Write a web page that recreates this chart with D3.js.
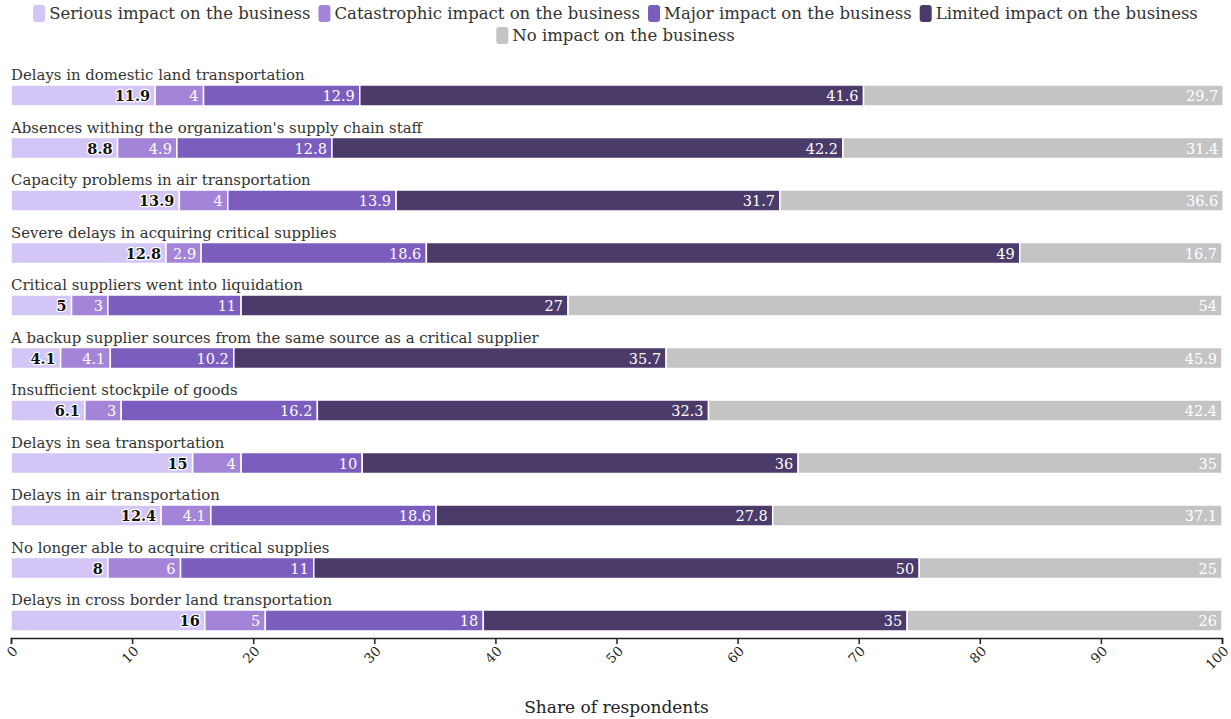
<!DOCTYPE html>
<html>
<head>
<meta charset="utf-8">
<script src="https://cdn.jsdelivr.net/npm/d3@7"></script>
<style>
  html, body { margin: 0; padding: 0; background: #fff; }
  svg { display: block; font-family: "DejaVu Serif", serif; }
</style>
</head>
<body>
<svg id="chart" width="1231" height="719"></svg>
<script>
// Survey: impact of supply chain disruptions (share of respondents, %)
const categories = [
  "Delays in domestic land transportation",
  "Absences withing the organization's supply chain staff",
  "Capacity problems in air transportation",
  "Severe delays in acquiring critical supplies",
  "Critical suppliers went into liquidation",
  "A backup supplier sources from the same source as a critical supplier",
  "Insufficient stockpile of goods",
  "Delays in sea transportation",
  "Delays in air transportation",
  "No longer able to acquire critical supplies",
  "Delays in cross border land transportation"
];
const seriesNames = [
  "Serious impact on the business",
  "Catastrophic impact on the business",
  "Major impact on the business",
  "Limited impact on the business",
  "No impact on the business"
];
const serious      = [11.9, 8.8, 13.9, 12.8, 5, 4.1, 6.1, 15, 12.4, 8, 16];
const catastrophic = [4, 4.9, 4, 2.9, 3, 4.1, 3, 4, 4.1, 6, 5];
const major        = [12.9, 12.8, 13.9, 18.6, 11, 10.2, 16.2, 10, 18.6, 11, 18];
const limited      = [41.6, 42.2, 31.7, 49, 27, 35.7, 32.3, 36, 27.8, 50, 35];
const noImpact     = [29.7, 31.4, 36.6, 16.7, 54, 45.9, 42.4, 35, 37.1, 25, 26];
const xTicks = [0, 10, 20, 30, 40, 50, 60, 70, 80, 90, 100];
const colors = ["#d3c6f6", "#a484d9", "#7a5dbd", "#4a3b6b", "#c4c4c4"];
const textColors = ["#111", "#fff", "#fff", "#fff", "#fff"];

const seriesValues = [serious, catastrophic, major, limited, noImpact];
const rows = categories.map((c, i) => {
  const r = { category: c };
  seriesNames.forEach((s, j) => r[s] = seriesValues[j][i]);
  return r;
});

const svg = d3.select("#chart");
const width = 1231, height = 719;

const x = d3.scaleLinear().domain([0, 100]).range([11, 1222]);
const rowStep = 52.5;
const band = d3.scaleBand().domain(categories)
  .range([85, 85 + rowStep * categories.length]).padding(0);
const barH = 21;

const stacked = d3.stack().keys(seriesNames)(rows);

// Category titles above each bar
svg.append("g").selectAll("text")
  .data(categories).join("text")
  .attr("x", x(0))
  .attr("y", d => band(d) - 5)
  .attr("fill", "#333")
  .attr("font-size", 14.9)
  .text(d => d);

// Stacked segments
const layers = svg.append("g").selectAll("g")
  .data(stacked).join("g")
  .attr("fill", (d, i) => colors[i]);

layers.selectAll("rect")
  .data(d => d.map(v => ({ v, key: d.key })))
  .join("rect")
  .attr("x", d => x(d.v[0]))
  .attr("y", d => band(d.v.data.category))
  .attr("width", d => x(d.v[1]) - x(d.v[0]))
  .attr("height", barH)
  .attr("stroke", "#fff")
  .attr("stroke-width", 1.5);

// Value labels, right-aligned inside each segment
stacked.forEach((layer, i) => {
  const g = svg.append("g")
    .attr("font-size", 14.5)
    .attr("text-anchor", "end")
    .attr("font-weight", i === 0 ? "bold" : "normal");
  g.selectAll("text")
    .data(layer).join("text")
    .attr("x", d => x(d[1]) - 5)
    .attr("y", d => band(d.data.category) + barH / 2 + 5.5)
    .attr("fill", textColors[i])
    .attr("stroke", i === 0 ? "#fff" : colors[i])
    .attr("stroke-width", 2.5)
    .attr("paint-order", "stroke")
    .attr("stroke-linejoin", "round")
    .text(d => d[1] - d[0] === 0 ? "" : +(d[1] - d[0]).toFixed(1));
});

// Bottom axis
const axisY = 638;
const axis = svg.append("g")
  .attr("transform", `translate(0,${axisY})`)
  .call(d3.axisBottom(x).tickValues(xTicks).tickSize(6).tickSizeOuter(6).tickFormat(d3.format("d")));
axis.select(".domain").attr("stroke", "#222").attr("stroke-width", 1.5);
axis.selectAll(".tick line").attr("stroke", "#222").attr("stroke-width", 1.5);
axis.selectAll(".tick text")
  .attr("font-family", "DejaVu Serif, serif")
  .attr("font-size", 13.5)
  .attr("fill", "#222")
  .attr("text-anchor", "end")
  .attr("dy", null)
  .attr("y", 0)
  .attr("transform", "translate(7,14) rotate(-45)");

svg.append("text")
  .attr("x", (x(0) + x(100)) / 2)
  .attr("y", 713)
  .attr("text-anchor", "middle")
  .attr("font-size", 17)
  .attr("fill", "#222")
  .text("Share of respondents");

// Legend: two centred rows
const legendRows = [seriesNames.slice(0, 4), seriesNames.slice(4)];
const legendFont = 16.5;
const sw = 12, swH = 17, gapAfterSwatch = 4, itemGap = 8;
legendRows.forEach((items, r) => {
  const g = svg.append("g");
  let cx = 0;
  items.forEach(name => {
    const idx = seriesNames.indexOf(name);
    const item = g.append("g").attr("transform", `translate(${cx},0)`);
    item.append("rect").attr("width", sw).attr("height", swH).attr("rx", 3)
      .attr("y", -14).attr("fill", colors[idx]);
    const t = item.append("text").attr("x", sw + gapAfterSwatch).attr("y", 0)
      .attr("font-size", legendFont).attr("fill", "#333").text(name);
    cx += sw + gapAfterSwatch + t.node().getComputedTextLength() + itemGap;
  });
  const total = cx - itemGap;
  g.attr("transform", `translate(${(width - total) / 2},${19 + r * 22})`);
});
</script>
</body>
</html>
